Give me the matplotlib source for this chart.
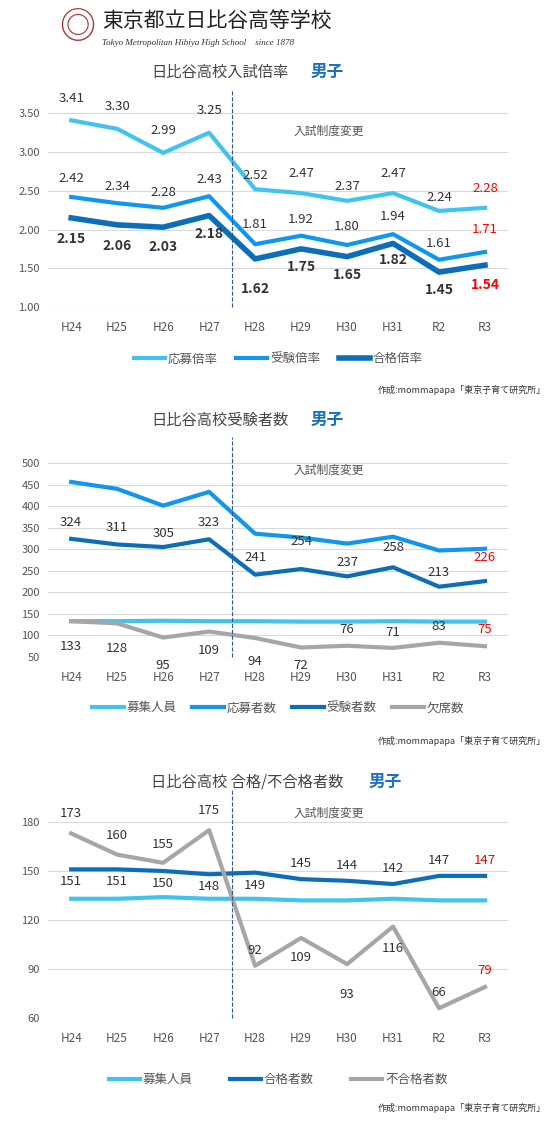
import matplotlib.pyplot as plt

plt.rcParams['font.family'] = ['Noto Sans CJK JP', 'DejaVu Sans']

years = ["H24", "H25", "H26", "H27", "H28", "H29", "H30", "H31", "R2", "R3"]

oubo_ritsu = [3.41, 3.30, 2.99, 3.25, 2.52, 2.47, 2.37, 2.47, 2.24, 2.28]
juken_ritsu = [2.42, 2.34, 2.28, 2.43, 1.81, 1.92, 1.80, 1.94, 1.61, 1.71]
goukaku_ritsu = [2.15, 2.06, 2.03, 2.18, 1.62, 1.75, 1.65, 1.82, 1.45, 1.54]

boshu = [133, 133, 134, 133, 133, 132, 132, 133, 132, 132]
oubo_sha = [456, 440, 401, 433, 336, 327, 313, 329, 297, 301]
juken_sha = [324, 311, 305, 323, 241, 254, 237, 258, 213, 226]
kesseki = [133, 128, 95, 109, 94, 72, 76, 71, 83, 75]

goukaku_sha = [151, 151, 150, 148, 149, 145, 144, 142, 147, 147]
fugoukaku = [173, 160, 155, 175, 92, 109, 93, 116, 66, 79]

C_LIGHT = "#41C3F0"
C_MID = "#1196F0"
C_DARK = "#0C6DB8"
C_GREY = "#A6A6A6"
TXT = "#555555"

fig = plt.figure(figsize=(5.54, 11.24), dpi=100)
x = list(range(len(years)))


def setup(ax, ylim, ticks, fmt):
    ax.set_xlim(-0.5, 9.5)
    ax.set_ylim(*ylim)
    ax.set_yticks(ticks)
    ax.set_yticklabels([fmt.format(t) for t in ticks], fontsize=8, color=TXT)
    ax.set_xticks(x)
    ax.set_xticklabels(years, fontsize=8.5, color=TXT)
    ax.tick_params(length=0, pad=10)
    ax.tick_params(axis="y", pad=6)
    for s in ax.spines.values():
        s.set_visible(False)
    ax.grid(axis="y", color="#D9D9D9", lw=0.8)
    ax.set_axisbelow(True)


def labels(ax, vals, offs, fmt, bold=False, size=9.5):
    for i, (v, o) in enumerate(zip(vals, offs)):
        c = "red" if i == len(vals) - 1 else "#333333"
        ax.annotate(fmt.format(v), (i, v), xytext=(0, o), textcoords="offset points",
                    ha="center", va="center", fontsize=size, color=c,
                    fontweight="bold" if bold else "normal")


def vline(ax, ymin, ymax):
    ax.plot([3.5, 3.5], [ymin, ymax], ls="--", lw=0.8, color="#2F5597", clip_on=False)


# logo header
fig.text(0.185, 0.981, "東京都立日比谷高等学校", fontsize=15, color="#222222", va="center")
fig.text(0.185, 0.962, "Tokyo Metropolitan Hibiya High School    since 1878",
         fontsize=6.5, style="italic", family="Liberation Serif", va="center", color="#333333")
fig.text(0.14, 0.975, "◎", fontsize=26, color="#B0303A", ha="center", va="center")

# panel 1
ax1 = fig.add_axes([0.087, 0.7269, 0.830, 0.1895])
setup(ax1, (1.0, 3.75), [1.0, 1.5, 2.0, 2.5, 3.0, 3.5], "{:.2f}")
ax1.plot(x, oubo_ritsu, color=C_LIGHT, lw=3, label="応募倍率")
ax1.plot(x, juken_ritsu, color=C_MID, lw=3, label="受験倍率")
ax1.plot(x, goukaku_ritsu, color=C_DARK, lw=4, label="合格倍率")
labels(ax1, oubo_ritsu, [16, 16, 16, 16, 10, 14, 10, 14, 10, 14], "{:.2f}")
labels(ax1, juken_ritsu, [13, 12, 11, 12, 14, 12, 13, 13, 12, 16], "{:.2f}")
labels(ax1, goukaku_ritsu, [-15, -15, -14, -13, -22, -13, -13, -12, -13, -14], "{:.2f}", bold=True, size=10)
vline(ax1, 1.0, 3.8)
ax1.text(5.6, 3.22, "入試制度変更", fontsize=8.5, color=TXT, ha="center")
fig.text(0.52, 0.936, "日比谷高校入試倍率", fontsize=11, color="#444444", ha="right", va="center")
fig.text(0.56, 0.936, "男子", fontsize=12, color="#1F6FBF", ha="left", va="center", fontweight="bold")
ax1.legend(loc="upper center", bbox_to_anchor=(0.5, -0.16), ncol=3, frameon=False,
           fontsize=9, handlelength=2.5, columnspacing=1.5, handletextpad=0.2, labelcolor=TXT)
fig.text(0.985, 0.650, "作成:mommapapa「東京子育て研究所」", fontsize=6.5, ha="right", color="#333333")

# panel 2
ax2 = fig.add_axes([0.087, 0.4155, 0.830, 0.1841])
setup(ax2, (50, 530), list(range(50, 501, 50)), "{:d}")
ax2.plot(x, boshu, color=C_LIGHT, lw=3, label="募集人員")
ax2.plot(x, oubo_sha, color=C_MID, lw=3, label="応募者数")
ax2.plot(x, juken_sha, color=C_DARK, lw=3, label="受験者数")
ax2.plot(x, kesseki, color=C_GREY, lw=3, label="欠席数")
labels(ax2, juken_sha, [12, 12, 10, 12, 12, 20, 10, 14, 10, 17], "{:d}")
labels(ax2, kesseki, [-18, -18, -20, -14, -17, -13, 12, 11, 12, 12], "{:d}")
vline(ax2, 50, 560)
ax2.text(5.6, 475, "入試制度変更", fontsize=8.5, color=TXT, ha="center")
fig.text(0.52, 0.626, "日比谷高校受験者数", fontsize=11, color="#444444", ha="right", va="center")
fig.text(0.56, 0.626, "男子", fontsize=12, color="#1F6FBF", ha="left", va="center", fontweight="bold")
ax2.legend(loc="upper center", bbox_to_anchor=(0.5, -0.16), ncol=4, frameon=False,
           fontsize=9, handlelength=2.5, columnspacing=1.3, handletextpad=0.2, labelcolor=TXT)
fig.text(0.985, 0.338, "作成:mommapapa「東京子育て研究所」", fontsize=6.5, ha="right", color="#333333")

# panel 3
ax3 = fig.add_axes([0.087, 0.0943, 0.830, 0.1962])
setup(ax3, (60, 195), [60, 90, 120, 150, 180], "{:d}")
ax3.plot(x, boshu, color=C_LIGHT, lw=3, label="募集人員")
ax3.plot(x, goukaku_sha, color=C_DARK, lw=3, label="合格者数")
ax3.plot(x, fugoukaku, color=C_GREY, lw=3, label="不合格者数")
labels(ax3, goukaku_sha, [-9, -9, -9, -9, -9, 11, 11, 11, 11, 11], "{:d}")
labels(ax3, fugoukaku, [14, 14, 13, 14, 11, -14, -22, -16, 11, 12], "{:d}")
vline(ax3, 60, 200)
ax3.text(5.6, 183, "入試制度変更", fontsize=8.5, color=TXT, ha="center")
fig.text(0.62, 0.304, "日比谷高校 合格/不合格者数", fontsize=11, color="#444444", ha="right", va="center")
fig.text(0.665, 0.304, "男子", fontsize=12, color="#1F6FBF", ha="left", va="center", fontweight="bold")
ax3.legend(loc="upper center", bbox_to_anchor=(0.5, -0.2), ncol=3, frameon=False,
           fontsize=9, handlelength=2.5, columnspacing=3.0, handletextpad=0.2, labelcolor=TXT)
fig.text(0.985, 0.012, "作成:mommapapa「東京子育て研究所」", fontsize=6.5, ha="right", color="#333333")

fig.savefig("out.png", dpi=100)
